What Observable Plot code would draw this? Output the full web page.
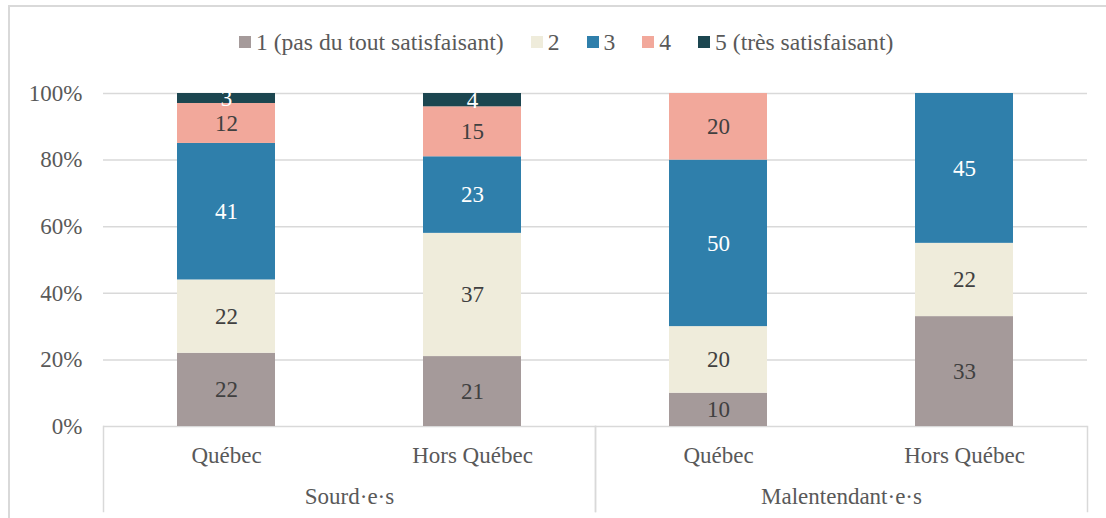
<!DOCTYPE html>
<html>
<head>
<meta charset="utf-8">
<script src="https://cdn.jsdelivr.net/npm/d3@7"></script>
<script src="https://cdn.jsdelivr.net/npm/@observablehq/plot@0.6"></script>
<style>
  html, body { margin: 0; padding: 0; background: #fff; overflow: hidden; }
  #wrap { position: relative; width: 1106px; height: 518px; overflow: hidden; font-family: "Liberation Serif", "Times New Roman", serif; }
  #border { position: absolute; left: 8px; top: 5px; width: 1120px; height: 540px; border: 2px solid #d9d9d9; box-sizing: border-box; }
  #legend { position: absolute; left: 239px; top: 28px; height: 28px; display: flex; align-items: center; font-family: "Liberation Serif", serif; font-size: 23.6px; color: #595959; white-space: nowrap; }
  #legend .item { display: flex; align-items: center; margin-right: 27px; }
  #legend .sw { width: 12px; height: 12px; margin-right: 5px; }
  #chart { position: absolute; left: 0; top: 70px; }
  #chart svg text { font-family: "Liberation Serif", serif; }
</style>
</head>
<body>
<div id="wrap">
  <div id="border"></div>
  <div id="legend"></div>
  <div id="chart"></div>
</div>
<script>
// ---- data ----
const groups = ["Sourd·e·s", "Malentendant·e·s"];
const regions = ["Québec", "Hors Québec"];
const levels = ["1 (pas du tout satisfaisant)", "2", "3", "4", "5 (très satisfaisant)"];
const levelColors = ["#a59a9a", "#efecdb", "#2f7fab", "#f2a89b", "#1c4650"];
const darkLevels = ["3", "5 (très satisfaisant)"];

// percentages per level (1..5)
const sourdQuebec = [22, 22, 41, 12, 3];
const sourdHorsQuebec = [21, 37, 23, 15, 4];
const malQuebec = [10, 20, 50, 20, 0];
const malHorsQuebec = [33, 22, 45, 0, 0];

const series = [
  {group: groups[0], region: regions[0], values: sourdQuebec},
  {group: groups[0], region: regions[1], values: sourdHorsQuebec},
  {group: groups[1], region: regions[0], values: malQuebec},
  {group: groups[1], region: regions[1], values: malHorsQuebec}
];

const data = [];
for (const s of series) {
  s.values.forEach((v, i) => {
    if (v > 0) data.push({group: s.group, region: s.region, level: levels[i], value: v / 100, label: String(v)});
  });
}

// ---- legend ----
const legend = document.getElementById("legend");
levels.forEach((l, i) => {
  const it = document.createElement("div");
  it.className = "item";
  const sw = document.createElement("div");
  sw.className = "sw";
  sw.style.background = levelColors[i];
  const tx = document.createElement("span");
  tx.textContent = l;
  it.appendChild(sw);
  it.appendChild(tx);
  legend.appendChild(it);
});

// ---- chart ----
const yTicks = [0, 0.2, 0.4, 0.6, 0.8, 1];
const stackOpts = {x: "region", y: "value", fx: "group", z: "level", order: levels};
const isDark = d => darkLevels.includes(d.level);

const chart = Plot.plot({
  width: 1106,
  height: 448,
  marginTop: 23,
  marginBottom: 92,
  marginLeft: 103,
  marginRight: 19,
  style: {fontFamily: "'Liberation Serif', serif", fontSize: "23px", color: "#595959", background: "transparent"},
  fx: {domain: groups, padding: 0},
  x: {domain: regions, paddingInner: 0.6, paddingOuter: 0.3},
  y: {domain: [0, 1]},
  color: {domain: levels, range: levelColors},
  marks: [
    Plot.gridY(yTicks, {stroke: "#d9d9d9", strokeOpacity: 1, strokeWidth: 1.5}),
    Plot.frame({anchor: "left", stroke: "#d9d9d9", strokeWidth: 1.5, insetTop: 333, insetBottom: -85}),
    Plot.frame({anchor: "right", stroke: "#d9d9d9", strokeWidth: 1.5, insetTop: 333, insetBottom: -85}),
    Plot.barY(data, Plot.stackY({...stackOpts, fill: "level"})),
    Plot.text(data, Plot.stackY({...stackOpts, text: d => isDark(d) ? "" : d.label, fill: "#404040", fontSize: 23})),
    Plot.text(data, Plot.stackY({...stackOpts, text: d => isDark(d) ? d.label : "", fill: "#ffffff", fontSize: 23})),
    Plot.axisY(yTicks, {tickFormat: d3.format(".0%"), tickSize: 0, tickPadding: 21, label: null, fontSize: 23}),
    Plot.axisX({tickSize: 0, tickPadding: 20, label: null, fontSize: 23}),
    Plot.axisFx({anchor: "bottom", tickSize: 0, tickPadding: 61, label: null, fontSize: 23})
  ]
});
document.getElementById("chart").appendChild(chart);
</script>
</body>
</html>
